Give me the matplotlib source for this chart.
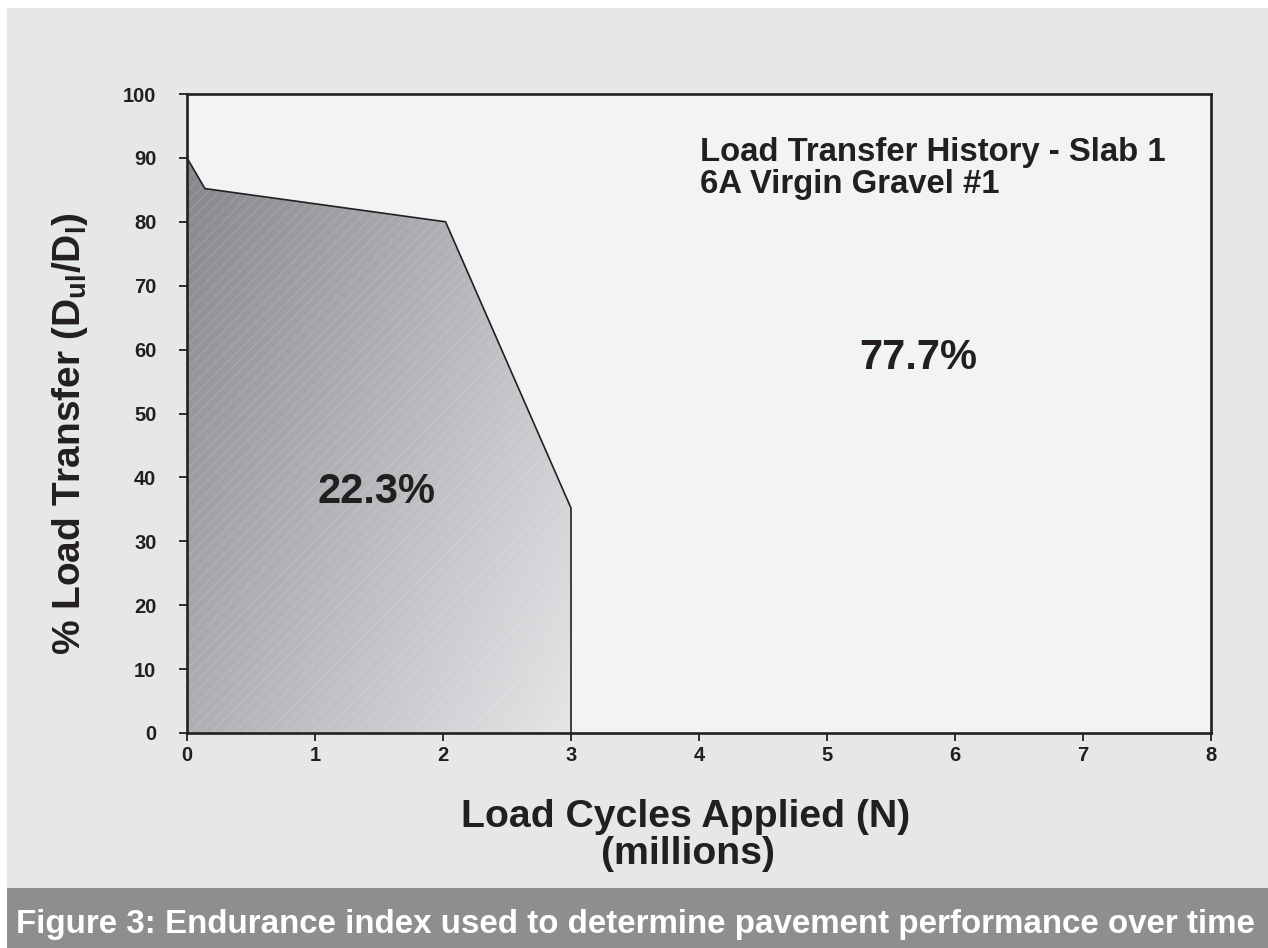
import matplotlib
matplotlib.use("Agg")
import matplotlib.pyplot as plt
import numpy as np
from matplotlib.patches import Polygon, Rectangle
from matplotlib.colors import LinearSegmentedColormap

# ---- data ----
cycles = [0.0, 0.14, 2.02, 3.0, 3.0]          # millions of load cycles
transfer = [90.0, 85.2, 80.0, 35.2, 0.0]      # % load transfer
x_ticks = [0, 1, 2, 3, 4, 5, 6, 7, 8]
y_ticks = [0, 10, 20, 30, 40, 50, 60, 70, 80, 90, 100]
area_below = "22.3%"
area_above = "77.7%"
title_lines = ["Load Transfer History - Slab 1", "6A Virgin Gravel #1"]
xlabel_lines = ["Load Cycles Applied (N)", "(millions)"]
ylabel = r"% Load Transfer (D$_{\rm ul}$/D$_{\rm l}$)"
caption = "Figure 3: Endurance index used to determine pavement performance over time"

plt.rcParams['font.family'] = ['Liberation Sans', 'DejaVu Sans']
plt.rcParams['font.weight'] = 'bold'
plt.rcParams['mathtext.fontset'] = 'custom'
plt.rcParams['mathtext.rm'] = 'Liberation Sans:bold'
plt.rcParams['mathtext.bf'] = 'Liberation Sans:bold'
plt.rcParams['mathtext.it'] = 'Liberation Sans:bold'
plt.rcParams['hatch.linewidth'] = 0.5

W, H = 1268, 948
INK = '#231f20'
fig = plt.figure(figsize=(W / 100, H / 100), dpi=100)
fig.patch.set_facecolor('white')

def fx(px):
    return px / W

def fy(py):
    return 1 - py / H

# backgrounds
fig.add_artist(Rectangle((fx(7), fy(888)), fx(W - 7), (888 - 8) / H,
                         transform=fig.transFigure, facecolor='#e6e7e9',
                         edgecolor='none', zorder=-10))
fig.add_artist(Rectangle((fx(7), 0), fx(W - 7), (H - 888) / H,
                         transform=fig.transFigure, facecolor='#8e8e8e',
                         edgecolor='none', zorder=-10))

ax = fig.add_axes([fx(187), fy(733), (1211 - 187) / W, (733 - 94) / H])
ax.set_facecolor('#f2f3f5')
ax.set_xlim(0, 8)
ax.set_ylim(0, 100)

verts = list(zip(cycles, transfer)) + [(0.0, 0.0)]

# gradient fill clipped to polygon
gx = np.linspace(0, 3, 300)
gy = np.linspace(0, 90, 300)
GX, GY = np.meshgrid(gx, gy)
T = (GX * 128 + 0.5 * (90 - GY) * 6.39) / (3 * 128 + 0.5 * 90 * 6.39)
cmap = LinearSegmentedColormap.from_list('g', ['#86878b', '#e4e5e7'])
im = ax.imshow(T, extent=[0, 3, 0, 90], origin='lower', cmap=cmap,
               aspect='auto', interpolation='bilinear', zorder=1)
clip = Polygon(verts, closed=True, transform=ax.transData, facecolor='none',
               edgecolor='none')
ax.add_patch(clip)
im.set_clip_path(clip)

hatch = Polygon(verts, closed=True, facecolor='none',
                edgecolor=(1, 1, 1, 0.22), hatch='///', linewidth=0, zorder=2)
ax.add_patch(hatch)

ax.plot(cycles, transfer, color=INK, linewidth=1.2, zorder=3,
        solid_joinstyle='miter')

for s in ax.spines.values():
    s.set_linewidth(1.9)
    s.set_color(INK)
    s.set_zorder(5)

ax.set_xticks(x_ticks)
ax.set_yticks(y_ticks)
ax.tick_params(axis='both', direction='out', length=5.5, width=1.3,
               color=INK, labelcolor=INK, labelsize=14.5)
ax.tick_params(axis='x', pad=4)
ax.tick_params(axis='y', pad=16.5)
for lab in ax.get_xticklabels() + ax.get_yticklabels():
    lab.set_fontweight('bold')

renderer = fig.canvas.get_renderer()

def fit(t, target, use_height=False):
    bb = t.get_window_extent(renderer)
    cur = bb.height if use_height else bb.width
    t.set_fontsize(t.get_fontsize() * target / cur)

# title
t1 = fig.text(fx(700), fy(161), title_lines[0], ha='left', va='baseline',
              fontsize=22, fontweight='bold', color=INK)
fit(t1, 465)
t2 = fig.text(fx(700), fy(193), title_lines[1], ha='left', va='baseline',
              fontsize=t1.get_fontsize(), fontweight='bold', color=INK)

# percentages
ax.text(5.71, 58.7, area_above, ha='center', va='center', fontsize=30,
        fontweight='bold', color=INK, zorder=6)
ax.text(1.48, 37.7, area_below, ha='center', va='center', fontsize=30,
        fontweight='bold', color=INK, zorder=6)

# x label
xl1 = fig.text(fx(686), fy(827), xlabel_lines[0], ha='center', va='baseline',
               fontsize=26, fontweight='bold', color=INK)
fit(xl1, 450)
xl2 = fig.text(fx(688), fy(864), xlabel_lines[1], ha='center', va='baseline',
               fontsize=xl1.get_fontsize(), fontweight='bold', color=INK)

# y label
yl = fig.text(fx(70), fy(434), ylabel, ha='center', va='center', rotation=90,
              fontsize=26, fontweight='bold', color=INK)
fit(yl, 443, use_height=True)

# caption
cap = fig.text(fx(635), fy(933), caption, ha='center', va='baseline',
               fontsize=22, fontweight='bold', color='white')
fit(cap, 1240)

fig.savefig('out.png', dpi=100, facecolor=fig.get_facecolor())
